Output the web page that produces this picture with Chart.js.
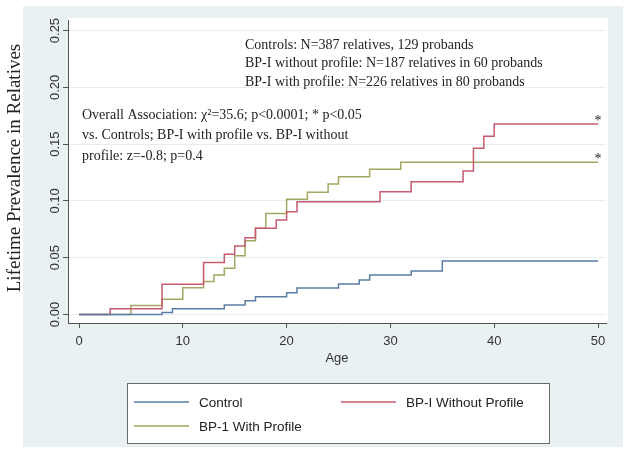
<!DOCTYPE html>
<html>
<head>
<meta charset="utf-8">
<script src="https://cdn.jsdelivr.net/npm/chart.js@4/dist/chart.umd.min.js"></script>
<style>
  html,body{margin:0;padding:0;background:#fff;}
  #c{display:block;}
</style>
</head>
<body>
<canvas id="c" width="629" height="451"></canvas>
<script>
// ---- data ----
const controlAges   = [0, 8, 9, 14, 16, 17, 20, 21, 25, 27, 28, 32, 35, 50];
const controlValues = [0, 0.0018, 0.005, 0.0084, 0.0122, 0.0157, 0.0192, 0.0233, 0.0268, 0.0304, 0.0348, 0.0383, 0.047, 0.047];

const withoutAges   = [0, 3, 8, 12, 14, 15, 16, 17, 19, 20, 21, 29, 32, 37, 38, 39, 40, 50];
const withoutValues = [0, 0.005, 0.0266, 0.0458, 0.053, 0.0603, 0.0676, 0.0759, 0.0832, 0.0905, 0.0993, 0.108, 0.1169, 0.1263, 0.1463, 0.157, 0.1677, 0.1677];

const withAges      = [0, 5, 8, 10, 12, 13, 14, 15, 16, 17, 18, 20, 22, 24, 25, 28, 31, 50];
const withValues    = [0, 0.008, 0.0134, 0.0236, 0.029, 0.0348, 0.0406, 0.0518, 0.065, 0.0759, 0.089, 0.1014, 0.1076, 0.1149, 0.1213, 0.1278, 0.134, 0.134];

const seriesLabels = ["Control", "BP-I Without Profile", "BP-1 With Profile"];
const xTicks = [0, 10, 20, 30, 40, 50];
const yTicks = [0, 0.05, 0.10, 0.15, 0.20, 0.25];
const yTickLabels = ["0.00", "0.05", "0.10", "0.15", "0.20", "0.25"];
const xTitle = "Age";
const yTitle = "Lifetime Prevalence in Relatives";
const noteTop = [
  "Controls: N=387 relatives, 129 probands",
  "BP-I without profile: N=187 relatives in 60 probands",
  "BP-I with profile: N=226 relatives in 80 probands"
];
const noteStats = [
  "Overall Association: \u03C7\u00B2=35.6; p<0.0001; * p<0.05",
  "vs. Controls; BP-I with profile vs. BP-I without",
  "profile: z=-0.8; p=0.4"
];
const starredSeries = [1, 2];

// ---- styles ----
const colors = ["#5a7da6", "#c65b70", "#a3a763"];
const SERIF = "'Liberation Serif', 'Times New Roman', serif";
const SANS = "'Liberation Sans', Arial, Helvetica, sans-serif";

function pts(xs, ys){ return xs.map((x,i)=>({x:x, y:ys[i]})); }

const bgPlugin = {
  id: 'bg',
  beforeDraw(chart){
    const ctx = chart.ctx, a = chart.chartArea;
    ctx.save();
    ctx.fillStyle = '#ffffff';
    ctx.fillRect(0,0,chart.width,chart.height);
    ctx.fillStyle = '#e9f1f3';
    ctx.fillRect(23,6,600,441);
    ctx.fillStyle = '#ffffff';
    ctx.fillRect(a.left, a.top - 2, a.right - a.left + 2, a.bottom - a.top + 2);
    ctx.restore();
  },
  afterDraw(chart){
    const ctx = chart.ctx, a = chart.chartArea;
    const ys = chart.scales.y, xs = chart.scales.x;
    ctx.save();
    // y tick labels (rotated)
    ctx.fillStyle = '#333';
    ctx.font = '13px ' + SANS;
    ctx.textAlign = 'center';
    ctx.textBaseline = 'middle';
    yTicks.forEach((v,i)=>{
      const py = ys.getPixelForValue(v);
      ctx.save();
      ctx.translate(a.left - 13, py);
      ctx.rotate(-Math.PI/2);
      ctx.fillText(yTickLabels[i], 0, 0);
      ctx.restore();
    });
    // y title
    ctx.save();
    ctx.font = '19px ' + SERIF;
    ctx.fillStyle = '#222';
    ctx.translate(15, 168);
    ctx.rotate(-Math.PI/2);
    ctx.fillText(yTitle, 0, 0);
    ctx.restore();
    // x title
    ctx.font = '13px ' + SANS;
    ctx.fillStyle = '#333';
    ctx.fillText(xTitle, (a.left + a.right)/2, 358);
    // annotations
    ctx.font = '14px ' + SERIF;
    ctx.fillStyle = '#222';
    ctx.textAlign = 'left';
    noteTop.forEach((t,i)=> ctx.fillText(t, 245, 45 + i*18.5));
    noteStats.forEach((t,i)=> ctx.fillText(t, 82, 115 + i*20.5));
    // asterisks
    const ds = chart.data.datasets;
    ctx.textAlign = 'center';
    ctx.textBaseline = 'alphabetic';
    starredSeries.forEach(si=>{
      const d = ds[si].data;
      const last = d[d.length-1];
      ctx.fillText('*', xs.getPixelForValue(last.x), ys.getPixelForValue(last.y) + 0.5);
    });
    // legend
    const lx = 127, ly = 383, lw = 422, lh = 60;
    ctx.fillStyle = '#ffffff';
    ctx.fillRect(lx, ly, lw, lh);
    ctx.strokeStyle = '#6b6b6b';
    ctx.lineWidth = 1;
    ctx.strokeRect(lx+0.5, ly+0.5, lw, lh);
    const items = [
      {i:0, x:134, y:402},
      {i:1, x:341, y:402},
      {i:2, x:134, y:426}
    ];
    ctx.font = '13.5px ' + SANS;
    ctx.textAlign = 'left';
    ctx.textBaseline = 'middle';
    items.forEach(it=>{
      ctx.strokeStyle = colors[it.i];
      ctx.lineWidth = 1.5;
      ctx.beginPath();
      ctx.moveTo(it.x, it.y);
      ctx.lineTo(it.x + 55, it.y);
      ctx.stroke();
      ctx.fillStyle = '#222';
      ctx.fillText(seriesLabels[it.i], it.x + 65, it.y + 1);
    });
    ctx.restore();
  }
};

new Chart(document.getElementById('c'), {
  type: 'line',
  data: {
    datasets: [
      {label: seriesLabels[0], data: pts(controlAges, controlValues), borderColor: colors[0]},
      {label: seriesLabels[1], data: pts(withoutAges, withoutValues), borderColor: colors[1]},
      {label: seriesLabels[2], data: pts(withAges, withValues), borderColor: colors[2]}
    ].map(d=>Object.assign(d, {stepped: 'before', borderWidth: 1.5, pointRadius: 0, fill: false, tension: 0}))
  },
  options: {
    responsive: false,
    animation: false,
    events: [],
    layout: {padding: {left: 0, right: 23, top: 20, bottom: 0}},
    plugins: {legend: {display: false}, tooltip: {enabled: false}},
    scales: {
      x: {
        type: 'linear',
        min: -1.06, max: 50.77,
        afterBuildTicks: s => { s.ticks = xTicks.map(v=>({value:v})); },
        afterFit: s => { s.height = 128; },
        grid: {drawOnChartArea: false, drawTicks: true, tickLength: 5, tickColor: '#555', lineWidth: 1},
        border: {display: true, color: '#555', width: 1},
        ticks: {color: '#333', font: {family: SANS, size: 13}, padding: 6, maxRotation: 0, autoSkip: false,
                callback: v => String(v)}
      },
      y: {
        type: 'linear',
        min: -0.0075, max: 0.2593,
        afterBuildTicks: s => { s.ticks = yTicks.map(v=>({value:v})); },
        afterFit: s => { s.width = 68; },
        grid: {drawOnChartArea: true, color: '#e6edf0', drawTicks: true, tickLength: 5, tickColor: '#555', lineWidth: 1},
        border: {display: true, color: '#555', width: 1},
        ticks: {display: false}
      }
    }
  },
  plugins: [bgPlugin]
});
</script>
</body>
</html>
